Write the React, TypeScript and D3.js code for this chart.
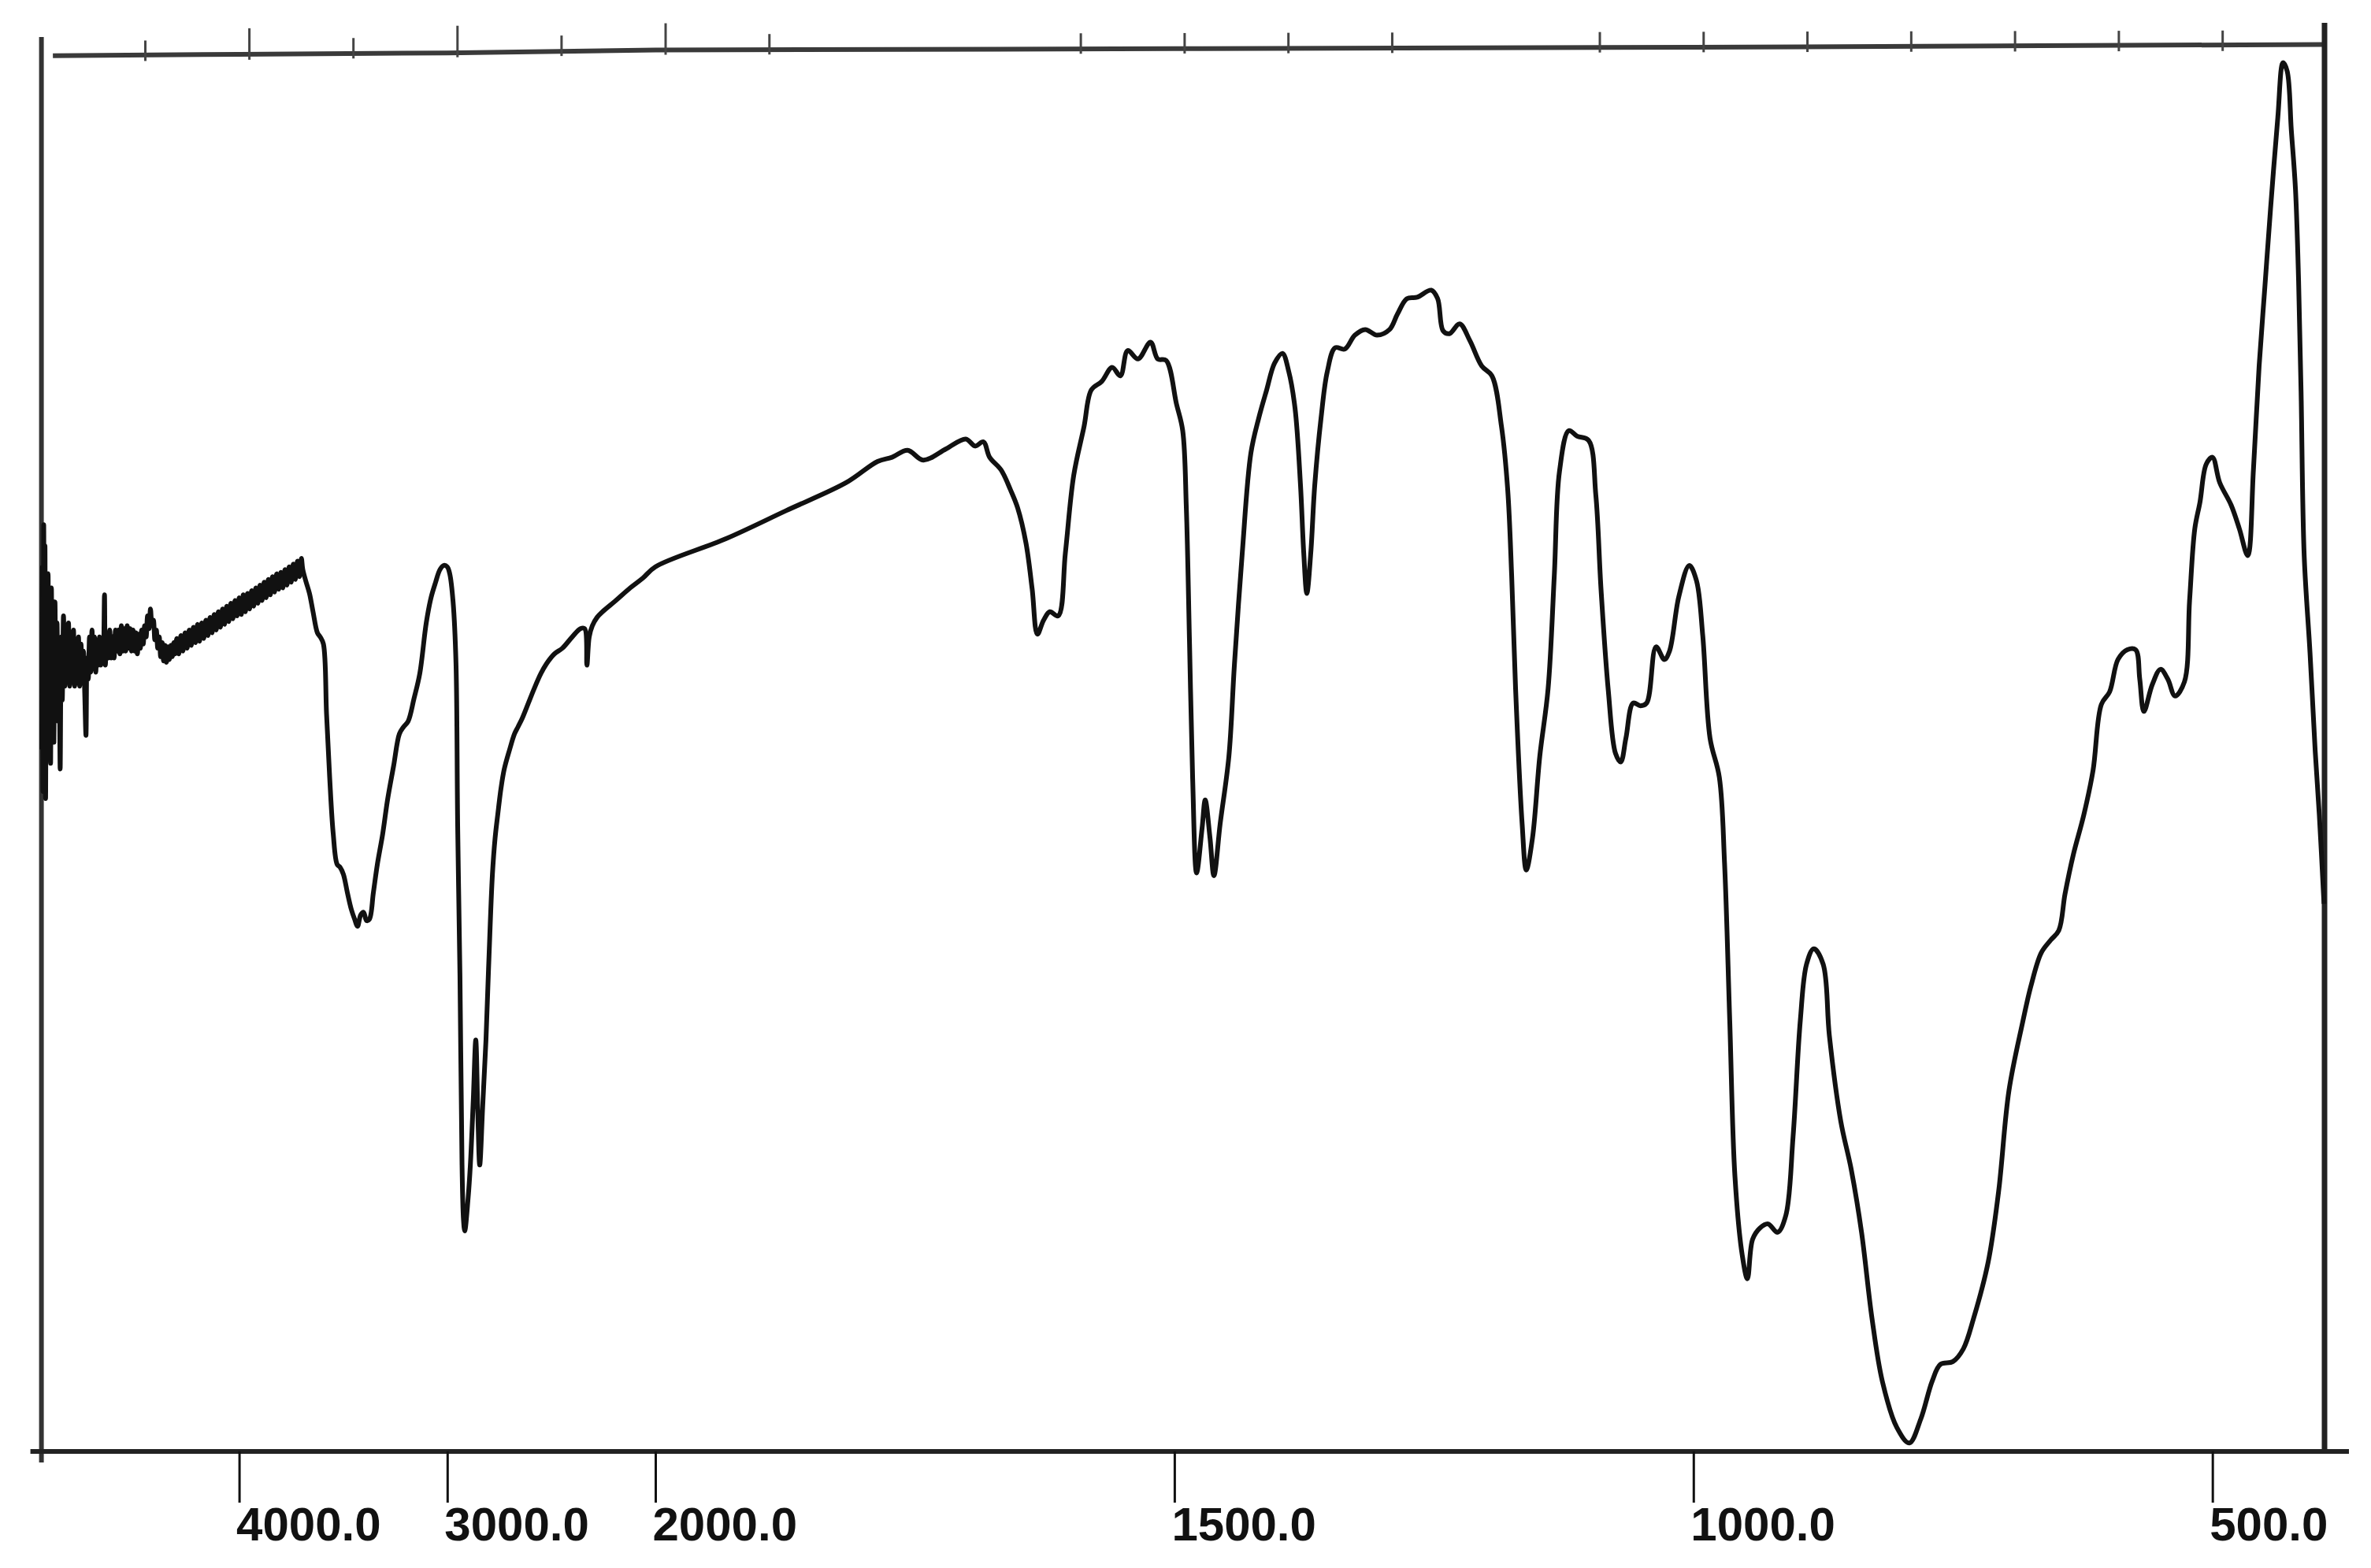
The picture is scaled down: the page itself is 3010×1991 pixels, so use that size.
import React, { useEffect, useRef } from 'react';
import * as d3 from 'd3';

type Pt = [number, number];

const width = 3010;
const height = 1991;

// bottom axis labels (cm-1)
const tickValues = [4000, 3000, 2000, 1500, 1000, 500];
// chart-paper ruler marks along the top line
const rulerTicks = [4500, 4000, 3500, 3000, 2500, 2000, 1900, 1600, 1500, 1400, 1300, 1100, 1000, 900, 800, 700, 600, 500];
const rulerMajor = [4000, 3000, 2000];

// 100% line at the top of the paper
const topLine: Pt[] = [[4895, 99.4], [4000, 99.5], [3000, 99.6], [2000, 99.8], [1500, 99.9], [1000, 100.0], [392, 100.2]];

// noisy high-wavenumber edge
const edgeNoise: Pt[] = [
  [4948, 50.0], [4945, 63.0], [4942, 47.0], [4939, 66.0], [4936, 48.0], [4933, 64.5], [4930, 46.5], [4926, 62.0],
  [4922, 49.5], [4918, 62.5], [4914, 51.0], [4910, 61.0], [4906, 49.0], [4902, 61.5], [4898, 52.0], [4894, 60.0],
  [4890, 50.5], [4885, 60.5], [4880, 53.0], [4875, 59.0], [4870, 52.0], [4865, 57.5], [4860, 48.6], [4855, 58.0],
  [4850, 53.5], [4844, 59.5], [4838, 54.5], [4832, 58.5], [4826, 55.0], [4820, 59.0], [4814, 54.5], [4808, 58.0],
  [4802, 55.5], [4796, 58.5], [4790, 54.5], [4784, 57.5], [4778, 55.0], [4772, 58.0], [4766, 54.5], [4760, 57.5],
  [4754, 55.5], [4748, 57.0], [4742, 54.0], [4736, 51.0], [4731, 56.5], [4725, 55.0], [4719, 58.0], [4713, 55.5],
  [4707, 58.5], [4701, 56.0], [4695, 58.0], [4689, 55.5], [4683, 57.5], [4677, 56.0], [4671, 58.0], [4665, 56.0],
  [4659, 57.5], [4653, 56.5], [4647, 61.0], [4643, 56.0], [4636, 58.0], [4629, 56.5], [4622, 58.5], [4615, 56.5],
  [4608, 58.0], [4601, 56.5], [4594, 58.5], [4587, 57.0], [4580, 58.5], [4573, 56.8], [4566, 58.8], [4559, 57.0],
  [4552, 58.6], [4545, 57.0], [4538, 58.8], [4531, 57.2], [4524, 58.6], [4517, 57.0], [4510, 58.5], [4503, 57.0],
  [4496, 58.3], [4489, 56.8], [4482, 58.2], [4475, 57.2], [4468, 58.5], [4461, 57.5], [4454, 58.8], [4447, 58.0],
  [4440, 59.5], [4433, 58.6], [4426, 60.0], [4419, 58.8], [4412, 59.2], [4405, 57.8], [4398, 58.5], [4391, 57.2],
  [4384, 58.0], [4377, 56.6], [4370, 57.6], [4363, 56.3], [4356, 57.4], [4349, 56.2], [4342, 57.3], [4335, 56.4],
  [4328, 57.4], [4321, 56.6], [4314, 57.6], [4307, 56.8],
];

// slow rise towards the OH band
const baselineRise: Pt[] = [
  [4300, 57.9], [4290, 56.8], [4280, 58.1], [4270, 57.0], [4260, 58.3], [4250, 57.2], [4240, 58.5], [4230, 57.4],
  [4220, 58.7], [4210, 57.6], [4200, 58.9], [4190, 57.7], [4180, 59.0], [4170, 57.9], [4160, 59.2], [4150, 58.1],
  [4140, 59.4], [4130, 58.3], [4120, 59.6], [4110, 58.5], [4100, 59.8], [4090, 58.7], [4080, 60.0], [4070, 58.9],
  [4060, 60.2], [4050, 59.1], [4040, 60.4], [4030, 59.3], [4020, 60.6], [4010, 59.5], [4000, 60.8], [3990, 59.6],
  [3980, 61.0], [3970, 59.8], [3960, 61.1], [3950, 60.0], [3940, 61.3], [3930, 60.2], [3920, 61.5], [3910, 60.4],
  [3900, 61.7], [3890, 60.6], [3880, 61.9], [3870, 60.8], [3860, 62.1], [3850, 61.0], [3840, 62.3], [3830, 61.2],
  [3820, 62.5], [3810, 61.4], [3800, 62.6], [3790, 61.5], [3780, 62.8], [3770, 61.7], [3760, 63.0], [3750, 61.9],
  [3740, 63.2], [3730, 62.1], [3720, 63.4], [3710, 62.3], [3701, 63.6],
];

// OH and CH stretching region
const stretchRegion: Pt[] = [
  [3694, 62.8], [3680, 62.0], [3662, 61.1], [3645, 59.8], [3624, 58.3], [3610, 58.0], [3595, 57.5], [3580, 52.5],
  [3565, 48.0], [3548, 44.0], [3529, 41.8], [3515, 41.6], [3499, 41.1], [3480, 39.8], [3461, 38.6], [3445, 37.9],
  [3431, 37.4], [3416, 38.2], [3402, 38.4], [3388, 37.8], [3374, 37.9], [3355, 39.8], [3336, 41.8], [3310, 44.0],
  [3287, 46.4], [3258, 48.8], [3230, 51.1], [3210, 51.6], [3188, 52.0], [3160, 53.6], [3132, 55.4], [3101, 59.0],
  [3078, 60.8], [3056, 61.9], [3035, 62.8], [3016, 63.1], [3000, 63.0], [2988, 62.5], [2972, 60.5], [2958, 56.1],
  [2950, 44.6], [2939, 33.9], [2929, 20.4], [2922, 16.5], [2916, 15.7], [2900, 18.0], [2889, 20.4], [2875, 25.0],
  [2863, 29.3], [2853, 24.0], [2844, 20.4], [2830, 24.5], [2814, 29.3], [2800, 35.0], [2783, 41.1], [2770, 43.7],
  [2757, 45.4], [2742, 47.2], [2726, 48.6], [2700, 50.0], [2677, 51.1], [2660, 51.6], [2640, 52.2], [2610, 53.3],
  [2583, 54.3], [2550, 55.4], [2523, 56.1], [2485, 56.8], [2447, 57.2], [2400, 58.0], [2360, 58.6], [2340, 58.6],
  [2329, 56.0], [2318, 58.0], [2303, 58.8], [2280, 59.4], [2254, 59.8], [2190, 60.6], [2121, 61.5], [2060, 62.2],
  [2000, 63.0],
];

// 2000 - 1170 cm-1
const midRegion: Pt[] = [
  [1932, 65.0], [1874, 67.0], [1816, 69.0], [1786, 70.5], [1772, 70.8], [1757, 71.3], [1742, 70.6], [1720, 71.4],
  [1701, 72.1], [1692, 71.6], [1684, 71.9], [1678, 70.8], [1667, 69.9], [1658, 68.5], [1651, 67.2], [1643, 64.7],
  [1637, 61.4], [1632, 58.2], [1626, 59.2], [1620, 59.8], [1612, 59.5], [1605, 64.0], [1597, 69.5], [1587, 73.0],
  [1580, 75.6], [1570, 76.2], [1560, 77.2], [1552, 76.6], [1545, 78.4], [1535, 77.8], [1523, 79.0], [1516, 77.8],
  [1508, 77.7], [1498, 74.6], [1492, 72.7], [1488.5, 67.2], [1485.4, 57.5], [1482.4, 47.9], [1478.6, 41.2],
  [1473.3, 44.4], [1470.3, 46.4], [1465.7, 43.7], [1461.9, 41.0], [1455.9, 44.7], [1447.5, 49.5], [1442.2, 56.0],
  [1434.6, 64.0], [1426.3, 71.1], [1418.7, 73.6], [1411.1, 75.6], [1403.5, 77.5], [1395.9, 78.2], [1389.8, 76.9],
  [1383.8, 74.3], [1378.5, 68.8], [1375.4, 64.0], [1372.4, 61.1], [1368.6, 64.0], [1364.8, 68.8], [1358.7, 73.6],
  [1352.7, 76.9], [1345.1, 78.6], [1335.9, 78.5], [1326.1, 79.5], [1316.2, 79.9], [1304.8, 79.5], [1292.7, 79.9],
  [1285.1, 81.0], [1276.0, 82.1], [1266.1, 82.2], [1252.5, 82.7], [1246.4, 82.1], [1241.1, 79.8], [1235.0, 79.6],
  [1225.2, 80.3], [1215.3, 79.1], [1203.9, 77.3], [1194.1, 76.6], [1184.9, 73.0], [1178.9, 68.5], [1175.1, 62.4],
  [1171.3, 54.3],
];

// fingerprint region down to the end of the scan
const fingerprint: Pt[] = [
  [1165, 44.7], [1161, 41.4], [1155, 43.7], [1148, 49.5], [1140, 54.3], [1134, 62.4], [1129, 69.8], [1120, 72.7],
  [1112, 72.3], [1101, 72.0], [1094, 68.1], [1089, 61.4], [1082, 54.2], [1075, 49.7], [1070, 49.1], [1065, 50.8],
  [1058, 53.3], [1051, 53.1], [1045, 53.3], [1036, 57.3], [1028, 56.4], [1023, 57.0], [1014, 60.9], [1004, 63.1],
  [997, 62.0], [991, 58.1], [984, 50.8], [975, 48.0], [970, 41.9], [965, 30.7], [960, 19.6], [953, 14.0],
  [948, 12.3], [943, 15.1], [936, 15.9], [928, 16.2], [919, 15.6], [911, 16.8], [904, 22.4], [897, 30.7],
  [891, 34.7], [884, 35.8], [875, 34.7], [869, 29.6], [858, 23.5], [848, 20.1], [838, 15.6], [828, 9.5],
  [818, 5.0], [804, 1.7], [792, 0.6], [781, 2.3], [770, 5.0], [762, 6.2], [750, 6.4], [740, 7.3],
  [730, 9.5], [716, 13.5], [706, 18.5], [696, 25.7], [683, 30.5], [675, 33.1], [665, 35.5], [656, 36.4],
  [648, 37.1], [642, 39.7], [634, 42.5], [624, 45.3], [615, 48.5], [607, 53.2], [599, 54.1], [591, 56.4],
  [582, 57.1], [574, 57.1], [570, 55.0], [566, 52.7], [558, 54.6], [550, 55.7], [543, 55.0], [536, 53.8],
  [527, 54.8], [522, 60.6], [517, 65.7], [512, 67.6], [506, 70.3], [500, 70.8], [493, 69.0], [482, 67.4],
  [474, 65.7], [466, 63.8], [460.5, 69.9], [455, 77.3], [449.5, 82.9], [444, 88.5], [437, 95.0], [432, 98.9],
  [428, 98.3], [424, 94.1], [420, 89.9], [417, 83.4], [414.6, 75.5], [411.6, 63.8], [406, 56.9], [401, 49.9],
  [397, 45.3], [392.5, 39.0],
];

const FONT = "'Liberation Sans', Arial, sans-serif";

const App = () => {
  const svgRef = useRef<SVGSVGElement | null>(null);

  useEffect(() => {
    if (!svgRef.current) return;
    const svg = d3.select(svgRef.current);
    svg.selectAll('*').remove();

    // the paper scale changes at 2000 cm-1
    const x = d3.scaleLinear().domain([4950, 2000, 392]).range([52.6, 832, 2951]);
    const y = d3.scaleLinear().domain([0, 100]).range([1843, 60]);
    const [x0, , x1] = x.range() as number[];
    const yBase = y(0);

    svg.append('rect').attr('width', width).attr('height', height).attr('fill', '#fff');

    // top 100% line and its ruler marks
    const line = d3.line<Pt>().x(d => x(d[0])).y(d => y(d[1]));
    svg.append('path')
      .datum(topLine)
      .attr('d', line)
      .attr('fill', 'none')
      .attr('stroke', '#3a3a3a')
      .attr('stroke-width', 6);

    const topY = d3.scaleLinear().domain(d3.extent(topLine, d => d[0]) as [number, number])
      .range([y(topLine[topLine.length - 1][1]), y(topLine[0][1])]);
    svg.append('g')
      .selectAll('line')
      .data(rulerTicks)
      .join('line')
      .attr('x1', d => x(d) + 13)
      .attr('x2', d => x(d) + 13)
      .attr('y1', d => topY(d) - (rulerMajor.includes(d) ? 32 : 18))
      .attr('y2', d => topY(d) + 8)
      .attr('stroke', '#444')
      .attr('stroke-width', 3);

    // frame
    svg.append('line')
      .attr('x1', x0).attr('x2', x0)
      .attr('y1', 47).attr('y2', yBase + 14)
      .attr('stroke', '#333').attr('stroke-width', 6);
    svg.append('line')
      .attr('x1', x1).attr('x2', x1)
      .attr('y1', 29).attr('y2', yBase)
      .attr('stroke', '#222').attr('stroke-width', 7);
    svg.append('line')
      .attr('x1', x0 - 14).attr('x2', x1 + 31)
      .attr('y1', yBase).attr('y2', yBase)
      .attr('stroke', '#222').attr('stroke-width', 6);

    // bottom ticks & labels
    const axis = d3.axisBottom(x)
      .tickValues(tickValues)
      .tickSize(65)
      .tickFormat(d3.format('.1f') as any);
    const gAxis = svg.append('g')
      .attr('transform', `translate(0,${yBase})`)
      .call(axis);
    gAxis.select('.domain').remove();
    gAxis.selectAll('.tick line').attr('stroke', '#111').attr('stroke-width', 3);
    gAxis.selectAll('.tick text')
      .attr('text-anchor', 'start')
      .attr('x', -4)
      .attr('y', 113)
      .attr('dy', 0)
      .attr('fill', '#111')
      .style('font-family', FONT)
      .style('font-size', '60px')
      .style('font-weight', 'bold');

    // spectrum
    const spectrum: Pt[] = [...edgeNoise, ...baselineRise, ...stretchRegion, ...midRegion, ...fingerprint];
    svg.append('path')
      .datum(spectrum)
      .attr('d', d3.line<Pt>().x(d => x(d[0])).y(d => y(d[1])).curve(d3.curveCatmullRom.alpha(0.5)))
      .attr('fill', 'none')
      .attr('stroke', '#111')
      .attr('stroke-width', 6)
      .attr('stroke-linejoin', 'round');
  }, []);

  return (
    <svg
      ref={svgRef}
      width={width}
      height={height}
      style={{ position: 'absolute', left: 0, top: 0 }}
    />
  );
};

export default App;
